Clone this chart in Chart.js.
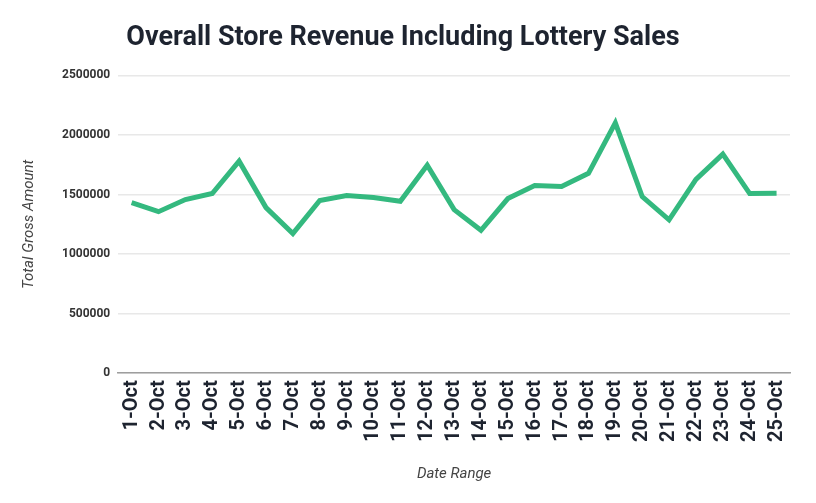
<!DOCTYPE html>
<html>
<head>
<meta charset="utf-8">
<script src="https://cdn.jsdelivr.net/npm/chart.js@4"></script>
<style>
  html, body { margin: 0; padding: 0; background: #fff; }
  #wrap { width: 816px; height: 503px; }
</style>
</head>
<body>
<div id="wrap"><canvas id="revChart"></canvas></div>
<script>
// Dados
const dias = ["1-Oct", "2-Oct", "3-Oct", "4-Oct", "5-Oct", "6-Oct", "7-Oct", "8-Oct", "9-Oct", "10-Oct",
  "11-Oct", "12-Oct", "13-Oct", "14-Oct", "15-Oct", "16-Oct", "17-Oct", "18-Oct", "19-Oct", "20-Oct",
  "21-Oct", "22-Oct", "23-Oct", "24-Oct", "25-Oct"];
const receita = [1432000, 1356000, 1458000, 1508000, 1780000, 1390000, 1172000, 1450000, 1492000, 1475000,
  1443000, 1746000, 1373000, 1200000, 1466000, 1576000, 1568000, 1678000, 2102000, 1483000,
  1288000, 1627000, 1839000, 1508000, 1510000];
const yTicks = [0, 500000, 1000000, 1500000, 2000000, 2500000];

new Chart(document.getElementById("revChart"), {
  type: "line",
  data: {
    labels: dias,
    datasets: [{
      label: "Total Gross Amount",
      data: receita,
      borderColor: "#34b97f",
      borderWidth: 5,
      pointRadius: 0,
      tension: 0,
      fill: false
    }]
  },
  options: {
    responsive: true,
    maintainAspectRatio: false,
    animation: false,
    layout: { padding: { left: 16, right: 26, top: 4, bottom: 16 } },
    plugins: {
      legend: { display: false },
      tooltip: { enabled: false },
      title: {
        display: true,
        text: "Overall Store Revenue Including Lottery Sales",
        color: "#1e2430",
        font: { family: "Roboto", size: 27, weight: "bold" },
        padding: { top: 18, bottom: 21 }
      }
    },
    scales: {
      x: {
        offset: true,
        grid: { display: false, drawTicks: false },
        border: { color: "#9e9e9e", width: 1.5 },
        ticks: {
          color: "#1e2430",
          font: { family: "Roboto", size: 20, weight: "bold" },
          maxRotation: 90,
          minRotation: 90,
          autoSkip: false,
          padding: 7
        },
        title: {
          display: true,
          text: "Date Range",
          color: "#444",
          font: { family: "Roboto", size: 15, style: "italic" },
          padding: { top: 16 }
        }
      },
      y: {
        min: 0,
        max: 2500000,
        afterBuildTicks: (axis) => { axis.ticks = yTicks.map(v => ({ value: v })); },
        grid: { color: "#e8e8e8", lineWidth: 1.5, drawTicks: false },
        border: { display: false },
        ticks: {
          color: "#333",
          font: { family: "Roboto", size: 12, weight: "bold" },
          padding: 8,
          callback: (v) => String(v)
        },
        title: {
          display: true,
          text: "Total Gross Amount",
          color: "#444",
          font: { family: "Roboto", size: 15, style: "italic" },
          padding: { bottom: 16 }
        }
      }
    }
  }
});
</script>
</body>
</html>
